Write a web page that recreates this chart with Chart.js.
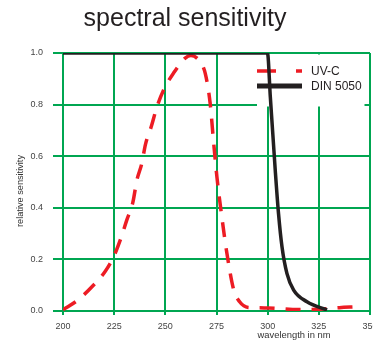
<!DOCTYPE html>
<html>
<head>
<meta charset="utf-8">
<script src="https://cdn.jsdelivr.net/npm/chart.js@4.4.1/dist/chart.umd.min.js"></script>
<style>
    html, body { margin: 0; padding: 0; background: #fff; }
    #wrap { position: relative; width: 373px; height: 341px; }
</style>
</head>
<body>
<div id="wrap"><canvas id="sensChart" width="373" height="341"></canvas></div>
<script>
// values
const chartTitle = 'spectral sensitivity';
const xAxisTitle = 'wavelength in nm';
const yAxisTitle = 'relative sensitivity';

const uvcLabel = 'UV-C';
const uvcWavelength = [200, 207.2, 214.5, 220.5, 224.9, 228.2, 231.2, 234.1, 236.1, 238.5, 240.3, 243.1, 245.8,
    249.1, 254, 259.7, 262.5, 267, 269.5, 271.9, 273.5, 275.2, 277.6, 280.1, 283.4, 286.3, 290.5, 300, 315, 325, 335, 343];
const uvcSensitivity = [0.005, 0.042, 0.097, 0.152, 0.213, 0.28, 0.353, 0.42, 0.507, 0.572, 0.646, 0.714, 0.789,
    0.856, 0.922, 0.98, 0.99, 0.966, 0.921, 0.805, 0.662, 0.52, 0.365, 0.223, 0.082, 0.036, 0.014, 0.012, 0.006, 0.007, 0.013, 0.016];

const dinLabel = 'DIN 5050';
const dinWavelength = [200, 299.9, 301.3, 303.7, 305.3, 307, 309.4, 312.7, 319.2, 329];
const dinSensitivity = [1.0, 1.0, 0.83, 0.546, 0.378, 0.249, 0.146, 0.081, 0.036, 0.004];

const wavelengthRange = [200, 350];
const wavelengthStep = 25;
const sensitivityRange = [0, 1];
const sensitivityStep = 0.2;

const GREEN = '#00a651';
const RED = '#ed1c24';
const BLACK = '#231f20';
const FONT = "'Liberation Sans', Arial, sans-serif";

function toPoints(xs, ys) {
    return xs.map((x, i) => ({ x: x, y: ys[i] }));
}

// legend box inside the plot, drawn under the curves
const legendPlugin = {
    id: 'insideLegend',
    beforeDatasetsDraw(chart) {
        const ctx = chart.ctx;
        const area = chart.chartArea;
        const left = area.right - 113;
        const top = area.top + 1.5;
        ctx.save();
        ctx.fillStyle = '#fff';
        ctx.fillRect(left, top, 107.5, 52);

        const sets = chart.data.datasets;
        const uvc = sets.find(d => d.label === uvcLabel);
        const din = sets.find(d => d.label === dinLabel);

        ctx.lineCap = 'butt';
        ctx.strokeStyle = uvc.borderColor;
        ctx.lineWidth = 3.5;
        ctx.setLineDash([19, 20]);
        ctx.beginPath();
        ctx.moveTo(left, top + 16.5);
        ctx.lineTo(left + 45, top + 16.5);
        ctx.stroke();

        ctx.setLineDash([]);
        ctx.strokeStyle = din.borderColor;
        ctx.lineWidth = 5;
        ctx.beginPath();
        ctx.moveTo(left, top + 31.5);
        ctx.lineTo(left + 45, top + 31.5);
        ctx.stroke();

        ctx.fillStyle = BLACK;
        ctx.font = '12px ' + FONT;
        ctx.textBaseline = 'middle';
        ctx.textAlign = 'left';
        ctx.fillText(uvc.label, left + 54, top + 17);
        ctx.fillText(din.label, left + 54, top + 32);
        ctx.restore();
    }
};

// axis titles sit off-centre in the original, so place them by hand
const axisTitlePlugin = {
    id: 'axisTitles',
    afterDraw(chart) {
        const ctx = chart.ctx;
        const area = chart.chartArea;
        ctx.save();
        ctx.fillStyle = '#333';
        ctx.textAlign = 'center';
        ctx.textBaseline = 'middle';

        ctx.font = '9.4px ' + FONT;
        ctx.fillText(xAxisTitle, area.left + 231, chart.height - 6);

        ctx.translate(20, area.top + 138);
        ctx.rotate(-Math.PI / 2);
        ctx.font = '9.2px ' + FONT;
        ctx.fillText(yAxisTitle, 0, 0);
        ctx.restore();
    }
};

function drawChart() {
    const ctx = document.getElementById('sensChart').getContext('2d');

    window.sensChartInstance = new Chart(ctx, {
        type: 'line',
        data: {
            datasets: [
                {
                    label: uvcLabel,
                    data: toPoints(uvcWavelength, uvcSensitivity),
                    borderColor: RED,
                    borderWidth: 3.5,
                    borderDash: [15, 11],
                    pointRadius: 0,
                    fill: false,
                    cubicInterpolationMode: 'monotone',
                    order: 1
                },
                {
                    label: dinLabel,
                    data: toPoints(dinWavelength, dinSensitivity),
                    borderColor: BLACK,
                    borderWidth: 3.5,
                    pointRadius: 0,
                    fill: false,
                    cubicInterpolationMode: 'monotone',
                    order: 0
                }
            ]
        },
        options: {
            responsive: false,
            animation: false,
            devicePixelRatio: 1,
            layout: { padding: { left: 0, right: 3, top: 0, bottom: 0 }, autoPadding: false },
            plugins: {
                legend: { display: false },
                tooltip: { enabled: false },
                title: {
                    display: true,
                    text: chartTitle,
                    color: BLACK,
                    font: { family: FONT, size: 25, weight: 'normal' },
                    padding: { top: 4, bottom: 19 }
                }
            },
            scales: {
                x: {
                    type: 'linear',
                    min: wavelengthRange[0],
                    max: wavelengthRange[1],
                    grid: { color: GREEN, lineWidth: 2, tickLength: 4, drawTicks: true },
                    border: { display: true, color: GREEN, width: 2 },
                    ticks: {
                        stepSize: wavelengthStep,
                        color: '#444',
                        padding: 6,
                        maxRotation: 0,
                        font: { family: FONT, size: 9 }
                    },
                    afterFit(scale) {
                        scale.height = 30;
                        scale.paddingLeft = 0;
                        scale.paddingRight = 0;
                    }
                },
                y: {
                    type: 'linear',
                    min: sensitivityRange[0],
                    max: sensitivityRange[1],
                    grid: { color: GREEN, lineWidth: 2, tickLength: 10, drawTicks: true },
                    border: { display: true, color: GREEN, width: 2 },
                    ticks: {
                        stepSize: sensitivityStep,
                        color: '#444',
                        padding: 10,
                        font: { family: FONT, size: 9 },
                        callback: value => value.toFixed(1)
                    },
                    afterFit(scale) {
                        scale.width = 63;
                        scale.paddingTop = 0;
                        scale.paddingBottom = 0;
                    }
                }
            }
        },
        plugins: [legendPlugin, axisTitlePlugin]
    });
}

drawChart();
</script>
</body>
</html>
